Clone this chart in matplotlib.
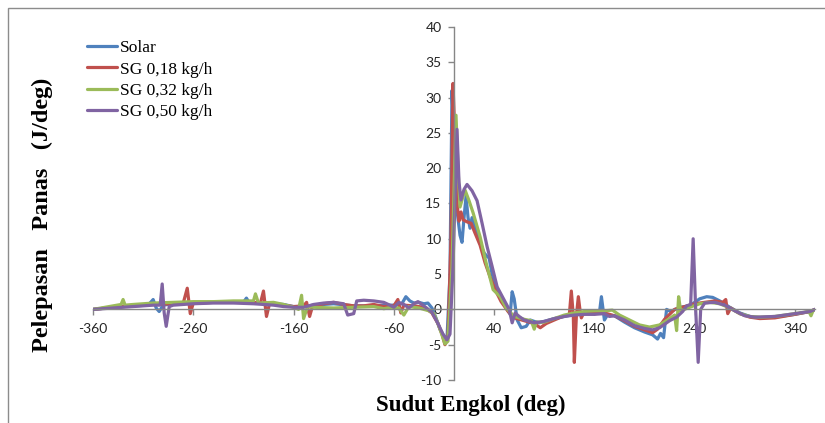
import matplotlib
matplotlib.use("Agg")
import matplotlib.pyplot as plt
from matplotlib.patches import Rectangle

plt.rcParams["axes.unicode_minus"] = False

# crank angle (deg) / heat release (J/deg) for each fuel
solar_x = [-360, -340, -320, -305, -300, -297, -294, -290, -280, -260, -240, -215, -210,
           -207, -204, -190, -170, -160, -150, -140, -120, -100, -80, -70, -60, -52, -48,
           -44, -40, -35, -30, -26, -22, -18, -14, -10, -7, -4, -2, 0, 3, 6, 8, 10, 12, 14,
           16, 18, 21, 25, 30, 33, 35, 38, 42, 46, 50, 53, 56, 58, 60, 63, 67, 72, 76, 80,
           85, 90, 100, 110, 120, 130, 140, 145, 147, 150, 153, 160, 170, 180, 190, 198,
           203, 206, 209, 212, 216, 225, 235, 245, 252, 258, 265, 275, 285, 295, 305, 320,
           340, 355, 360]
solar_y = [0, 0.3, 0.5, 0.6, 1.4, 0.2, -0.3, 0.6, 0.8, 0.9, 1.0, 1.0, 1.0,
           1.6, 0.9, 0.9, 0.7, 0.4, 0.4, 0.6, 0.8, 0.5, 0.5, 0.6, 0.6, 0.8, 1.8,
           1.2, 0.9, 1.0, 0.8, 0.9, 0.2, -1.2, -2.8, -3.8, -4.2, 5, 31, 24, 14, 10.5, 9.5,
           13, 16, 13, 11.5, 13, 11.5, 9.8, 8, 7.5, 7.3, 5, 3.3, 2, 0.8, 0, -0.7, 2.5, 1.5,
           -1.5, -2.6, -2.4, -1.5, -1.7, -1.9, -1.7, -1.3, -1.0, -0.7, -0.6, -0.6, -0.5,
           1.8, -1.5, -0.8, -0.9, -1.8, -2.6, -3.2, -3.6, -4.2, -3.4, -4.0, 0, -0.3, 0.3,
           0.5, 1.5, 1.8, 1.7, 1.2, 0.3, -0.5, -1.0, -1.2, -1.1, -0.7, -0.3, 0]

sg018_x = [-360, -340, -320, -300, -280, -270, -266, -263, -260, -240, -220, -200, -193,
           -190, -187, -184, -170, -160, -150, -147, -144, -141, -130, -120, -110, -100,
           -90, -80, -70, -60, -56, -53, -50, -40, -30, -22, -16, -12, -9, -6, -3, -1, 1,
           3, 5, 7, 9, 13, 17, 21, 26, 31, 36, 41, 47, 54, 60, 70, 80, 86, 92, 100, 110,
           115, 117, 119, 120, 122, 124, 126, 127, 129, 140, 150, 160, 170, 180, 190, 198,
           203, 210, 220, 230, 240, 250, 260, 268, 271, 273, 276, 285, 295, 305, 320, 340,
           355, 360]
sg018_y = [0, 0.3, 0.6, 0.7, 0.8, 0.9, 3.0, -0.6, 0.9, 1.0, 1.1, 1.0, 0.9,
           2.6, -1.0, 0.8, 0.6, 0.4, 0.5, 1.0, -1.0, 0.5, 0.8, 1.0, 0.7, 0.5,
           0.5, 0.7, 0.4, 0.5, 1.4, -0.5, 0.6, 0.5, 0.3, -0.5, -2.0, -3.5, -5.0, -4.0, 10,
           32, 24, 15, 12.5, 13.8, 12.7, 12.4, 12.2, 10.8, 9.1, 6.6, 4.6, 2.8, 1.1, -0.3,
           -1.2, -1.6, -2.0, -2.6, -2.0, -1.5, -0.9, -0.8, 2.6, -1.0, -7.5, -1.0, 1.8, -0.5,
           -1.2, -0.6, -0.6, -0.5, -0.9, -1.6, -2.4, -2.9, -3.3, -2.8, -1.4, 0.0, 0.4, 0.8,
           1.0, 1.2, 1.0, 1.4, -0.6, 0.2, -0.6, -1.1, -1.3, -1.2, -0.7, -0.3, 0]

sg032_x = [-360, -340, -332, -330, -328, -320, -300, -280, -260, -240, -220, -200, -198,
           -195, -180, -170, -160, -155, -152, -150, -146, -140, -120, -100, -80, -70, -62,
           -55, -50, -45, -35, -25, -20, -16, -12, -9, -6, -2, 2, 4, 6, 9, 11, 15, 19, 26,
           32, 39, 46, 52, 60, 70, 77, 80, 82, 90, 100, 110, 120, 130, 140, 150, 158, 165,
           175, 185, 195, 205, 215, 220, 222, 224, 226, 235, 245, 255, 265, 275, 285, 295,
           305, 320, 340, 354, 356, 358, 360]
sg032_y = [0, 0.5, 0.7, 1.4, 0.6, 0.7, 0.9, 1.0, 1.1, 1.1, 1.2, 1.2, 2.2,
           0.9, 1.0, 0.7, 0.3, 0.0, 2.0, -1.3, 0.4, 0.3, 0.2, 0.3, 0.4, 0.1, 0.3,
           0.2, -0.8, 0.4, 0.2, -0.2, -0.6, -2.0, -3.6, -4.9, -4.5, 6, 27.5, 20, 14.5, 16,
           16.9, 15.4, 13.7, 10.3, 6.6, 2.8, 1.8, 0.2, -1.0, -1.4, -1.6, -2.8, -1.8, -1.8,
           -1.3, -0.8, -0.5, -0.3, -0.2, -0.2, -0.1, -0.8, -1.5, -2.2, -2.5, -2.2, -1.3,
           -0.8, -3.0, 1.8, -0.2, 0.3, 0.8, 1.0, 0.8, 0.2, -0.6, -1.0, -1.1, -1.0, -0.6,
           -0.3, -0.9, -0.2, 0]

sg050_x = [-360, -340, -320, -300, -293, -291, -289, -287, -284, -280, -260, -240, -220,
           -200, -180, -170, -160, -150, -140, -130, -120, -110, -106, -100, -97, -90, -80,
           -70, -64, -60, -55, -50, -45, -40, -36, -30, -22, -16, -11, -7, -4, -1, 3, 5, 7,
           10, 13, 18, 23, 28, 33, 38, 43, 49, 55, 58, 61, 65, 70, 80, 90, 100, 110, 120,
           130, 140, 150, 155, 160, 170, 180, 190, 198, 205, 215, 222, 228, 232, 236, 238.5,
           241, 243.5, 246, 250, 260, 270, 280, 290, 300, 320, 340, 355, 360]
sg050_y = [0, 0.2, 0.4, 0.6, 0.6, 3.6, -0.5, -2.4, 0.4, 0.6, 0.8, 0.9, 0.9,
           0.8, 0.6, 0.4, 0.3, 0.3, 0.7, 0.9, 1.0, 0.8, -0.8, -0.6, 1.2, 1.3, 1.2,
           1.0, 0.6, 0.3, 1.0, 0.7, 0.2, 0.8, 1.1, 0.5, -0.4, -2.0, -3.5, -4.3, -3.5, 6,
           25.5, 18, 15.5, 17, 17.7, 16.8, 15.4, 12.2, 8.9, 6.1, 3.2, 1.6, 0.0, -1.9, -0.5,
           -1.0, -1.5, -1.9, -1.7, -1.3, -1.0, -0.8, -0.7, -0.7, -0.6, -1.0, -0.9, -1.5,
           -2.3, -2.7, -2.9, -2.6, -1.6, -1.1, -0.3, 0.5, 0.7, 10.0, 0.0, -7.5, 0.0, 0.9,
           1.0, 0.6, -0.2, -0.9, -1.1, -1.0, -0.6, -0.3, 0]

series = [
    ("Solar", solar_x, solar_y, "#4F81BD"),
    ("SG 0,18 kg/h", sg018_x, sg018_y, "#C0504D"),
    ("SG 0,32 kg/h", sg032_x, sg032_y, "#9BBB59"),
    ("SG 0,50 kg/h", sg050_x, sg050_y, "#8064A2"),
]

x_ticks = [-360, -260, -160, -60, 40, 140, 240, 340]
y_ticks = [-10, -5, 0, 5, 10, 15, 20, 25, 30, 35, 40]

W, H = 825, 423
fig = plt.figure(figsize=(W / 100, H / 100), dpi=100)
ax = fig.add_axes([93 / W, 1 - 380 / H, (815 - 93) / W, (380 - 27) / H])

for name, xs, ys, color in series:
    ax.plot(xs, ys, color=color, lw=2.3, label=name,
            solid_joinstyle="round", solid_capstyle="round")

ax.set_xlim(-360, 360)
ax.set_ylim(-10, 40)
ax.set_xticks(x_ticks)
ax.set_yticks(y_ticks)

# axes cross at the origin
ax.spines["left"].set_position(("data", 0))
ax.spines["bottom"].set_position(("data", 0))
ax.spines["top"].set_visible(False)
ax.spines["right"].set_visible(False)
for s in ("left", "bottom"):
    ax.spines[s].set_color("#868686")
    ax.spines[s].set_linewidth(1)

ax.tick_params(axis="both", direction="out", length=4, width=1, color="#868686",
               labelsize=10, labelcolor="#262626")
ax.tick_params(axis="x", pad=6)
ax.tick_params(axis="y", pad=5)
for lbl in ax.get_xticklabels() + ax.get_yticklabels():
    lbl.set_family("Lato")

fig.text(42 / W, 1 - 215 / H, "Pelepasan   Panas   (J/deg)", rotation=90,
         ha="center", va="center", fontsize=17.5, fontweight="bold",
         family="Liberation Serif")
fig.text(471 / W, 1 - 405 / H, "Sudut Engkol (deg)", ha="center", va="center",
         fontsize=16.5, fontweight="bold", family="Liberation Serif")

leg = ax.legend(loc="upper left", bbox_to_anchor=(87 / W, 1 - 40 / H),
                bbox_transform=fig.transFigure, frameon=False, borderpad=0,
                borderaxespad=0, handlelength=1.75, handletextpad=0.15,
                labelspacing=0.3, prop={"family": "Liberation Serif", "size": 12.5})
for line in leg.get_lines():
    line.set_linewidth(2.3)

# chart area border
fig.patches.append(Rectangle((8 / W, -0.1), 1.2, 1.1 - 8 / H,
                             transform=fig.transFigure, fill=False,
                             edgecolor="#8c8c8c", lw=1))

fig.savefig("out.png", dpi=100)
